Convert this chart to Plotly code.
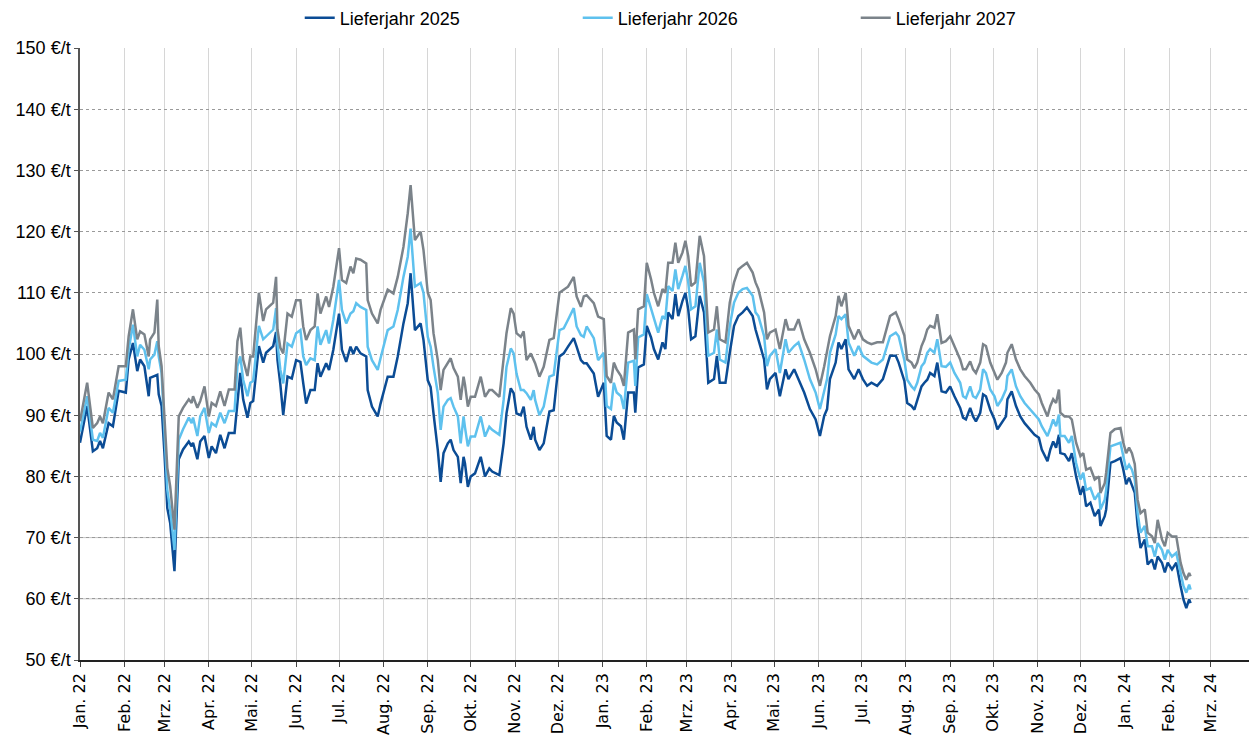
import pandas as pd
import plotly.graph_objects as go

# days since 2022-01-01 (trading days sampled from the chart)
day_offsets = [0,5,9,12,14,16,20,23,27,32,34,37,40,42,45,48,49,52,54,55,57,59,61,63,66,69,72,76,78,79,82,84,87,90,92,95,98,101,104,108,110,112,114,117,119,121,125,128,130,135,137,138,140,142,145,148,151,154,156,158,161,164,166,168,172,174,177,181,183,186,189,191,193,196,200,201,204,208,210,215,219,222,226,229,231,
234,238,240,243,245,247,250,252,254,257,259,261,264,266,268,269,271,273,276,280,283,286,288,293,296,298,301,303,305,308,310,312,315,317,318,321,324,328,331,335,338,341,345,347,350,352,354,359,362,
366,368,371,373,375,378,380,383,387,388,390,394,396,399,401,404,407,409,411,414,416,418,421,423,425,427,430,433,436,439,443,445,447,451,454,457,460,463,466,470,472,474,478,480,482,486,489,493,495,499,502,506,510,514,517,520,522,524,528,530,532,535,537,541,544,547,550,553,557,561,566,570,572,
576,578,581,583,585,588,590,592,594,597,599,602,605,608,611,615,617,619,622,624,626,629,631,633,636,639,641,644,647,648,651,654,657,660,664,667,670,672,676,678,680,682,684,685,688,691,693,696,699,701,703,706,709,712,713,716,717,720,723,727,729,731,733,735,737,739,741,744,746,749,751,753,756,758,760,763,766,769,771,773,775,776]

lj2025 = [85.5,91.5,84.1,84.6,85.8,84.6,88.7,88.2,94.0,93.7,99.1,101.8,97.2,99.1,98.0,93.1,96.1,96.4,96.6,93.4,91.5,83.8,74.8,72.4,64.5,82.8,84.4,85.7,84.9,85.5,82.8,85.7,86.6,83.0,84.9,83.8,86.8,84.6,87.1,87.1,92.6,96.9,92.6,89.6,92.0,92.3,101.3,98.6,100.2,101.3,103.6,99.0,95.0,90.0,96.3,96.0,99.0,98.7,95.2,91.9,94.1,94.1,98.5,96.3,98.5,97.4,100.7,106.6,100.7,98.7,101.2,100.0,101.2,100.1,99.6,94.1,91.4,89.8,91.9,96.3,96.3,99.6,105.0,108.3,113.2,
103.9,105.0,102.3,95.7,94.6,90.3,84.3,79.1,83.8,85.4,86.0,84.3,83.2,78.9,83.2,82.1,78.3,80.0,80.5,83.2,80.0,81.3,80.8,80.2,85.4,90.3,94.4,93.6,90.3,90.0,91.4,88.1,86.0,88.1,86.0,84.3,85.4,90.6,90.8,99.6,100.1,101.2,102.6,101.2,99.0,98.5,98.5,96.8,93.0,
95.3,86.6,86.0,89.9,88.8,88.2,86.0,93.7,93.7,90.4,97.8,98.3,104.6,102.7,100.8,99.1,101.9,100.8,106.8,105.7,109.8,106.2,108.7,110.0,107.3,102.4,102.9,109.5,106.8,95.3,95.9,99.7,95.3,95.3,100.2,104.6,106.2,106.8,107.6,106.2,104.0,102.4,99.1,94.2,95.9,96.9,93.1,97.5,95.9,97.5,95.9,93.7,91.0,89.3,86.6,89.9,91.0,95.9,98.6,101.9,100.8,102.4,97.5,95.9,97.5,95.9,94.8,95.3,94.8,95.9,99.7,99.7,98.6,
95.6,92.0,91.5,90.9,92.3,94.7,95.3,95.8,96.9,96.4,98.6,93.9,93.7,94.7,93.1,91.2,89.6,89.3,91.2,89.8,89.0,90.4,93.4,93.1,90.9,89.3,87.7,88.7,89.8,92.6,93.9,91.5,89.8,88.7,87.7,86.8,86.3,84.4,82.5,84.4,85.7,84.7,86.8,83.8,83.6,82.5,83.8,80.0,77.0,78.4,75.1,75.7,73.5,74.6,71.9,73.5,74.6,82.2,82.5,83.0,81.1,78.7,79.8,78.4,77.3,71.9,68.3,69.7,65.6,66.4,64.8,66.9,65.9,64.3,65.9,64.8,65.9,62.1,59.9,58.5,59.9,59.3]

lj2026 = [87.3,93.1,86.0,85.8,87.1,86.3,91.2,90.4,95.6,95.8,100.7,104.8,99.6,101.5,100.7,97.5,99.1,99.9,102.1,99.6,96.9,87.1,77.8,74.6,68.0,86.0,87.7,89.6,88.7,89.6,86.6,89.8,91.2,87.1,88.7,88.2,90.4,88.7,90.7,90.7,98.0,99.6,95.8,93.1,95.3,95.6,104.6,102.4,102.9,104.0,107.5,101.7,97.4,95.2,101.7,101.2,103.4,103.9,99.6,98.2,99.3,99.0,104.5,101.5,103.9,101.7,105.6,112.1,107.2,105.0,106.6,107.0,108.3,107.7,107.2,101.2,99.0,97.4,99.3,103.9,104.5,107.2,112.6,115.9,120.5,
111.0,111.6,110.0,102.8,101.2,97.9,93.6,87.6,91.4,92.5,92.8,91.4,89.8,85.4,89.8,88.0,84.9,86.5,86.5,89.8,86.5,88.1,87.6,86.8,92.5,97.9,100.9,100.1,96.8,94.1,94.1,93.6,92.5,94.1,92.5,90.0,91.4,96.3,96.6,103.9,104.2,105.6,107.5,104.5,103.1,102.8,104.5,102.6,99.0,
100.2,91.5,91.0,95.3,93.7,93.1,91.0,98.6,98.9,94.8,102.7,103.2,109.8,107.3,105.7,103.5,106.2,105.7,111.1,110.3,113.8,110.6,112.8,114.4,111.7,107.3,107.8,114.9,111.7,99.7,100.2,104.0,99.1,98.6,104.6,108.4,110.0,110.6,110.8,109.5,106.8,106.2,102.9,98.0,99.7,100.8,96.9,102.4,100.2,101.3,101.9,99.1,95.9,93.7,91.0,94.2,95.9,100.2,103.2,106.2,105.7,106.5,101.9,99.7,101.3,99.7,99.1,98.6,98.3,99.1,102.9,103.5,102.9,
99.0,95.8,94.7,94.2,95.3,98.0,98.6,100.2,100.8,100.2,102.4,98.0,97.9,98.6,96.9,95.3,93.1,92.8,94.7,93.1,92.8,94.2,97.5,96.9,94.2,93.1,91.5,92.6,94.2,96.4,97.5,94.7,93.1,92.0,90.9,90.1,89.3,88.2,86.6,87.9,89.3,88.2,90.1,86.6,86.6,85.5,86.6,82.2,79.5,80.6,77.8,78.1,76.2,77.3,74.6,76.2,77.8,84.9,85.2,85.5,83.3,81.1,81.9,81.1,79.5,74.0,70.8,71.9,68.6,68.6,66.9,69.1,68.0,66.4,68.0,66.9,67.5,64.2,62.1,61.0,62.3,61.5]

lj2027 = [89.0,95.3,87.9,88.7,89.8,88.7,93.7,92.6,98.0,98.0,102.9,107.3,102.4,103.7,103.2,99.6,102.4,103.5,108.9,101.3,98.0,89.3,81.4,78.4,71.3,89.8,91.2,92.6,92.0,93.1,91.2,92.3,94.7,89.8,92.0,91.5,93.9,91.5,94.2,94.2,102.1,104.3,99.1,96.4,99.6,99.6,110.0,105.4,107.3,108.4,112.6,104.0,101.0,100.1,106.6,106.1,108.8,108.8,104.5,102.3,103.9,104.5,109.9,106.6,109.4,107.7,111.0,117.3,112.1,111.6,114.3,113.2,115.6,115.4,114.8,108.8,106.6,105.0,107.2,110.5,109.9,112.6,117.5,123.0,127.6,
118.6,120.0,117.0,110.0,108.8,103.4,99.0,94.1,97.4,98.5,99.3,97.7,96.3,92.5,96.3,95.0,91.4,93.0,93.0,96.3,93.0,94.1,94.1,93.0,99.0,103.4,107.5,106.6,103.4,102.8,103.7,99.0,100.1,99.0,98.5,96.3,97.9,102.3,102.6,110.0,110.5,111.0,112.6,109.4,107.7,109.4,109.6,108.3,106.1,
105.7,96.4,95.3,98.6,97.5,96.4,94.8,103.5,104.0,99.1,107.3,107.8,114.9,112.2,110.0,107.8,110.6,110.0,114.9,114.9,118.2,114.9,116.6,118.5,116.0,111.1,111.7,119.3,116.0,103.5,104.0,107.8,102.4,101.9,108.4,111.7,113.8,114.4,114.9,113.3,111.7,110.6,106.8,102.4,103.5,104.0,100.8,105.7,104.0,104.0,105.7,102.4,100.2,97.5,94.8,98.0,100.2,102.9,106.2,109.5,107.8,110.0,104.6,102.4,104.0,102.4,101.9,101.6,101.9,101.9,106.2,106.8,105.7,
103.0,99.1,98.6,97.7,98.6,101.3,102.4,104.0,104.6,104.3,106.5,101.8,102.1,102.9,101.3,99.1,97.5,97.5,98.8,97.5,96.9,98.6,101.6,101.3,98.6,96.9,95.8,96.9,98.6,100.2,101.6,99.1,97.5,96.4,95.3,94.2,93.4,92.0,89.8,91.5,92.6,92.0,94.2,90.4,89.8,89.8,89.3,85.5,83.3,83.8,81.1,81.4,79.5,80.0,77.3,78.9,80.6,87.1,87.7,87.9,85.5,83.8,84.7,83.8,82.0,76.2,74.0,74.6,70.8,70.2,69.1,72.9,69.7,68.6,70.8,70.2,70.2,65.9,64.2,63.1,64.2,63.7]

series_names = ["Lieferjahr 2025", "Lieferjahr 2026", "Lieferjahr 2027"]
series_colors = ["#0B4C95", "#5EC1EE", "#7B838A"]

tick_dates = pd.date_range("2022-01-01", "2024-03-01", freq="MS")
tick_labels = ["Jan. 22", "Feb. 22", "Mrz. 22", "Apr. 22", "Mai. 22", "Jun. 22", "Jul. 22",
               "Aug. 22", "Sep. 22", "Okt. 22", "Nov. 22", "Dez. 22",
               "Jan. 23", "Feb. 23", "Mrz. 23", "Apr. 23", "Mai. 23", "Jun. 23", "Jul. 23",
               "Aug. 23", "Sep. 23", "Okt. 23", "Nov. 23", "Dez. 23",
               "Jan. 24", "Feb. 24", "Mrz. 24"]

dates = pd.Timestamp("2022-01-01") + pd.to_timedelta(day_offsets, unit="D")

narrow = "Liberation Sans Narrow, Arial Narrow, sans-serif"

fig = go.Figure()
for name, vals, col in zip(series_names, [lj2025, lj2026, lj2027], series_colors):
    fig.add_trace(go.Scatter(x=dates, y=vals, mode="lines", name=name,
                             line=dict(color=col, width=2.5)))

# solid light horizontal lines at the bottom (as in reference)
for yv in [60, 70]:
    fig.add_shape(type="line", xref="paper", x0=0, x1=1, yref="y", y0=yv, y1=yv,
                  line=dict(color="#c4c4c4", width=1), layer="below")
# top grid line hidden behind the legend area
fig.add_shape(type="line", xref="paper", x0=0.09, x1=0.902, yref="y", y0=150, y1=150,
              line=dict(color="white", width=3), layer="below")

fig.update_layout(
    width=1257, height=736,
    paper_bgcolor="white", plot_bgcolor="white",
    margin=dict(l=72, r=10, t=40, b=84, autoexpand=False),
    showlegend=True,
    legend=dict(orientation="h", x=0.187, xanchor="left", y=1.049, yanchor="middle",
                font=dict(family=narrow, size=18, color="#000000"),
                entrywidth=233, entrywidthmode="pixels", itemwidth=30,
                bgcolor="rgba(0,0,0,0)"),
    font=dict(family=narrow, color="#000000"),
)

fig.update_xaxes(
    type="date", range=["2022-01-01", "2024-04-01"],
    tickmode="array", tickvals=tick_dates, ticktext=tick_labels,
    tickangle=-90, tickfont=dict(family="DejaVu Sans, sans-serif", size=16, color="#000"),
    showgrid=True, gridcolor="#d6d6d6", gridwidth=1,
    showline=True, linecolor="#222222", linewidth=1.5,
    ticks="outside", ticklen=5, tickcolor="#444444",
    zeroline=False,
)
fig.update_yaxes(
    range=[50, 150], dtick=10, tick0=50, ticksuffix=" €/t",
    tickfont=dict(family=narrow, size=18, color="#000"),
    showgrid=True, gridcolor="#9a9a9a", gridwidth=1, griddash="dot",
    showline=True, linecolor="#555555", linewidth=1.5,
    ticks="outside", ticklen=4, tickcolor="#555555",
    zeroline=False,
)

fig.write_html("out.html")
